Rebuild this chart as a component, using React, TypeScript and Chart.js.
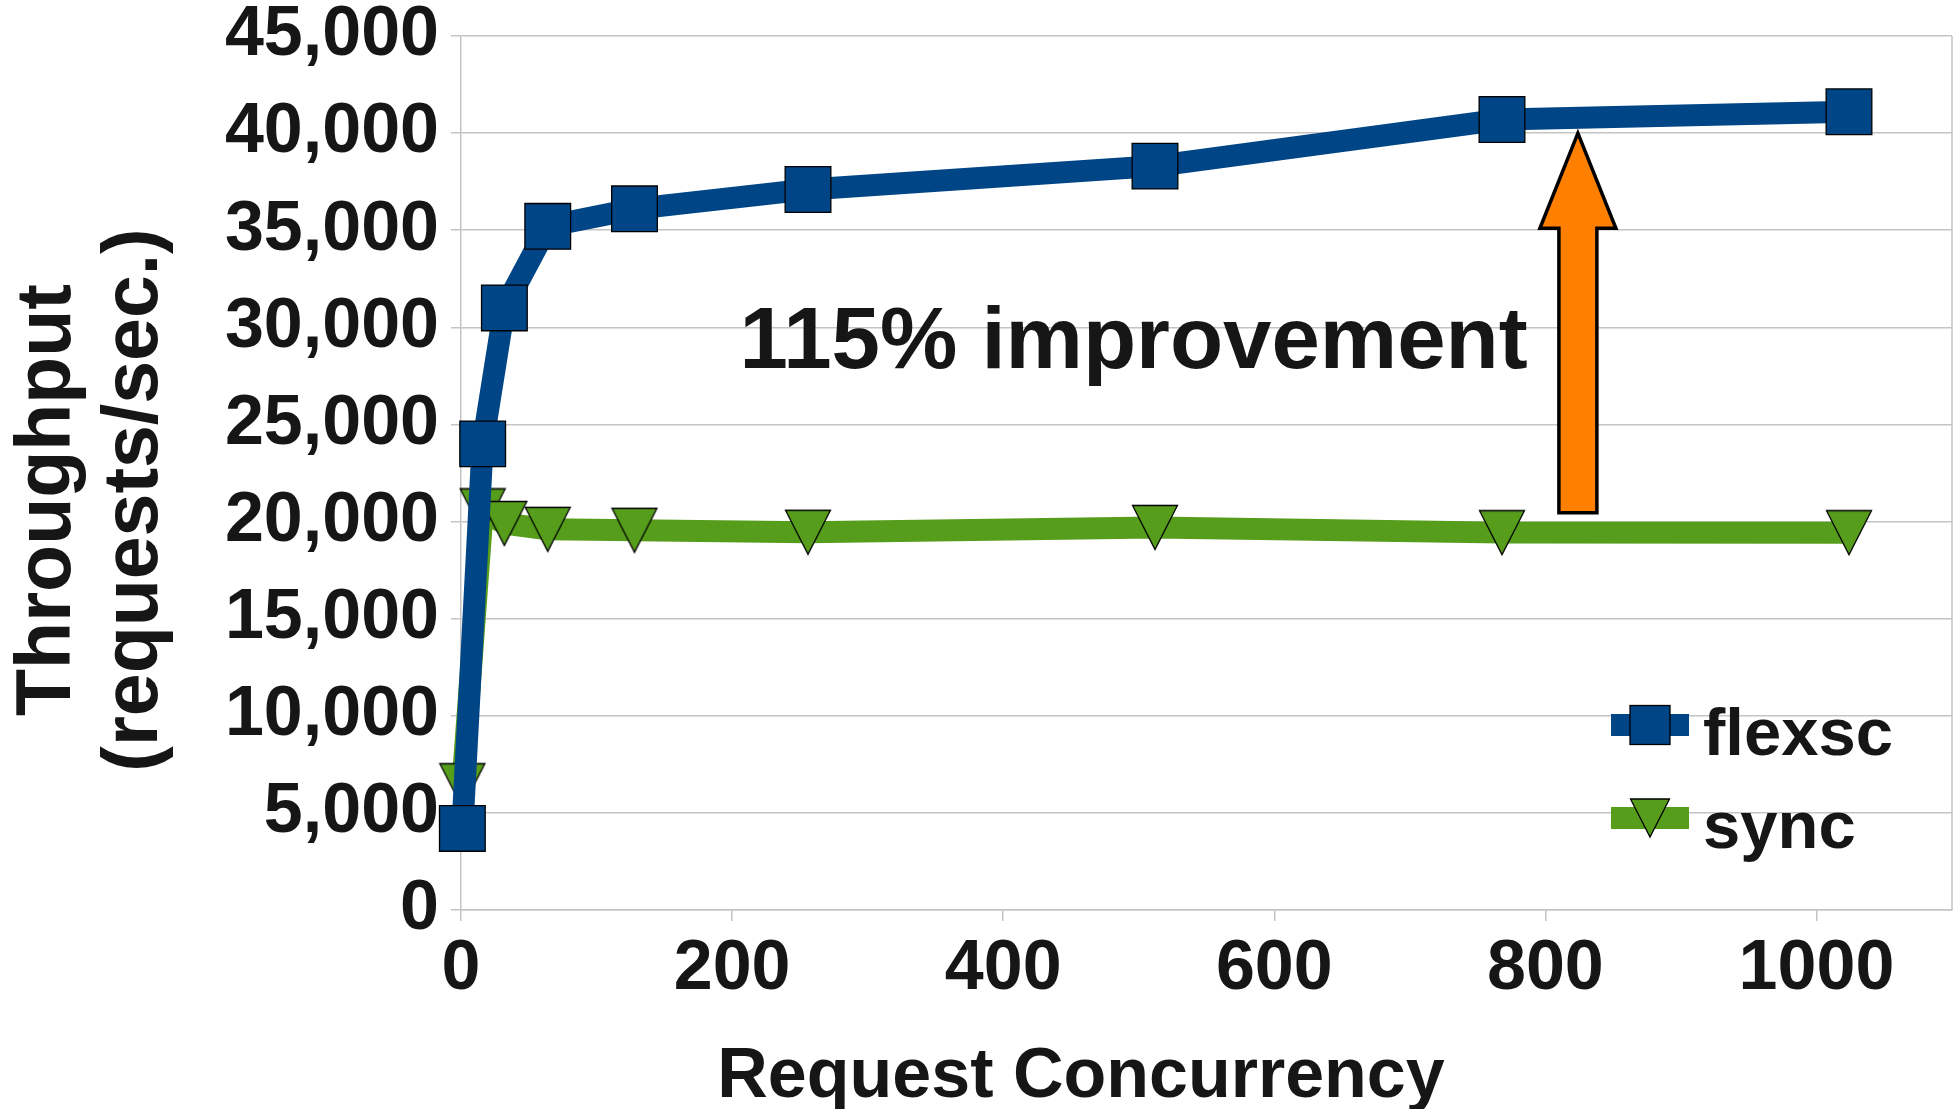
import React, { useEffect, useRef } from 'react';
import { Chart, registerables } from 'chart.js';

Chart.register(...registerables);

// ---- data ----
const CONCURRENCY = [1, 16, 32, 64, 128, 256, 512, 768, 1024];
const FLEXSC = [4200, 24000, 31000, 35200, 36100, 37100, 38300, 40700, 41100];
const SYNC = [6400, 20550, 19900, 19600, 19550, 19450, 19700, 19430, 19430];
const SERIES_NAMES = ['flexsc', 'sync'];
const X_TICKS = [0, 200, 400, 600, 800, 1000];
const Y_TICKS = [0, 5000, 10000, 15000, 20000, 25000, 30000, 35000, 40000, 45000];
const X_TITLE = 'Request Concurrency';
const Y_TITLE_LINES = ['Throughput', '(requests/sec.)'];
const NOTE_TEXT = '115% improvement';
// annotation anchors in data units
const NOTE_AT = { x: 205.5, y: 27900 };
const ARROW_AT = { x: 824, from: 20450, headBase: 35100, to: 40000 };

// ---- styles ----
const FONT = "'Liberation Sans', Arial, sans-serif";
const TEXT = '#161616';
const GRID = '#c4c4c4';
const BLUE = '#004586';
const GREEN = '#579d1c';
const ORANGE = '#ff8000';

function makeTriangle(w: number, h: number, fill: string): HTMLCanvasElement {
  const c = document.createElement('canvas');
  c.width = Math.ceil(w + 3);
  c.height = Math.ceil(h + 3);
  const ctx = c.getContext('2d')!;
  const x0 = (c.width - w) / 2;
  const y0 = (c.height - h) / 2;
  ctx.beginPath();
  ctx.moveTo(x0, y0);
  ctx.lineTo(x0 + w, y0);
  ctx.lineTo(x0 + w / 2, y0 + h);
  ctx.closePath();
  ctx.fillStyle = fill;
  ctx.fill();
  ctx.lineWidth = 1.3;
  ctx.strokeStyle = '#000';
  ctx.lineJoin = 'miter';
  ctx.stroke();
  return c;
}

const extrasPlugin = {
  id: 'extras',
  beforeDatasetsDraw(chart: any) {
    const { ctx, chartArea } = chart;
    // right border of plot
    ctx.save();
    ctx.strokeStyle = GRID;
    ctx.lineWidth = 1.5;
    ctx.beginPath();
    ctx.moveTo(chartArea.right, chartArea.top);
    ctx.lineTo(chartArea.right, chartArea.bottom);
    ctx.stroke();
    ctx.restore();
  },
  afterDatasetsDraw(chart: any) {
    const { ctx, chartArea, scales } = chart;
    const xs = scales.x;
    const ys = scales.y;
    ctx.save();

    // arrow
    const ax = xs.getPixelForValue(ARROW_AT.x);
    const tipY = ys.getPixelForValue(ARROW_AT.to);
    const baseY = ys.getPixelForValue(ARROW_AT.headBase);
    const botY = ys.getPixelForValue(ARROW_AT.from);
    const sh = 19;
    const hh = 38;
    ctx.beginPath();
    ctx.moveTo(ax - sh, botY);
    ctx.lineTo(ax - sh, baseY);
    ctx.lineTo(ax - hh, baseY);
    ctx.lineTo(ax, tipY);
    ctx.lineTo(ax + hh, baseY);
    ctx.lineTo(ax + sh, baseY);
    ctx.lineTo(ax + sh, botY);
    ctx.closePath();
    ctx.fillStyle = ORANGE;
    ctx.fill();
    ctx.lineWidth = 3.5;
    ctx.strokeStyle = '#000';
    ctx.lineJoin = 'miter';
    ctx.stroke();

    // note text
    ctx.fillStyle = TEXT;
    ctx.font = `bold 87px ${FONT}`;
    ctx.textAlign = 'left';
    ctx.textBaseline = 'alphabetic';
    ctx.fillText(NOTE_TEXT, xs.getPixelForValue(NOTE_AT.x), ys.getPixelForValue(NOTE_AT.y));

    // legend
    const datasets = chart.data.datasets;
    const lineL = chartArea.right - 341;
    const lineR = chartArea.right - 263;
    const mx = chartArea.right - 302;
    const tx = chartArea.right - 249;
    const rows = [chartArea.bottom - 185, chartArea.bottom - 92];
    datasets.forEach((ds: any, i: number) => {
      const cy = rows[i];
      ctx.fillStyle = ds.borderColor;
      ctx.fillRect(lineL, cy - 11, lineR - lineL, 22);
      ctx.lineWidth = 1.3;
      ctx.strokeStyle = '#000';
      if (i === 0) {
        ctx.fillStyle = ds.pointBackgroundColor;
        ctx.fillRect(mx - 20, cy - 19.5, 40, 39);
        ctx.strokeRect(mx - 20, cy - 19.5, 40, 39);
      } else {
        ctx.beginPath();
        ctx.moveTo(mx - 19.5, cy - 19);
        ctx.lineTo(mx + 19.5, cy - 19);
        ctx.lineTo(mx, cy + 19);
        ctx.closePath();
        ctx.fillStyle = ds.borderColor;
        ctx.fill();
        ctx.stroke();
      }
      ctx.fillStyle = TEXT;
      ctx.font = `bold 67px ${FONT}`;
      ctx.textAlign = 'left';
      ctx.textBaseline = 'alphabetic';
      ctx.fillText(ds.label, tx, cy + 30);
    });

    // axis titles
    ctx.fillStyle = TEXT;
    ctx.textAlign = 'center';
    ctx.textBaseline = 'alphabetic';
    ctx.font = `bold 70px ${FONT}`;
    ctx.fillText(X_TITLE, 1081, 1097);
    ctx.font = `bold 77px ${FONT}`;
    const titleX = [70, 156.5];
    Y_TITLE_LINES.forEach((t, i) => {
      ctx.save();
      ctx.translate(titleX[i], 500);
      ctx.rotate(-Math.PI / 2);
      ctx.fillText(t, 0, 0);
      ctx.restore();
    });
    ctx.restore();
  },
};

export default function App() {
  const ref = useRef<HTMLCanvasElement>(null);
  useEffect(() => {
    const canvas = ref.current!;
    const tri = makeTriangle(45, 44, GREEN);
    const tickFont = { family: FONT, size: 70, weight: 'bold' as const, lineHeight: 1 };
    const chart = new Chart(canvas, {
      type: 'line',
      data: {
        datasets: [
          {
            label: SERIES_NAMES[0],
            data: CONCURRENCY.map((x, i) => ({ x, y: FLEXSC[i] })),
            borderColor: BLUE,
            backgroundColor: BLUE,
            borderWidth: 22,
            borderJoinStyle: 'round',
            pointStyle: 'rect',
            pointRadius: 32.3,
            pointBackgroundColor: BLUE,
            pointBorderColor: '#000',
            pointBorderWidth: 1.3,
            tension: 0,
            clip: false as any,
          },
          {
            label: SERIES_NAMES[1],
            data: CONCURRENCY.map((x, i) => ({ x, y: SYNC[i] })),
            borderColor: GREEN,
            backgroundColor: GREEN,
            borderWidth: 22,
            borderJoinStyle: 'round',
            pointStyle: tri as any,
            pointRadius: 22,
            pointBackgroundColor: GREEN,
            pointBorderColor: '#000',
            pointBorderWidth: 1.3,
            tension: 0,
            clip: false as any,
          },
        ],
      },
      options: {
        responsive: false,
        animation: false,
        devicePixelRatio: 1,
        layout: { autoPadding: false, padding: { top: 36, right: 8, left: 0, bottom: 0 } },
        plugins: {
          legend: { display: false },
          tooltip: { enabled: false },
        },
        scales: {
          x: {
            type: 'linear',
            min: 0,
            max: 1100,
            afterBuildTicks: (s: any) => {
              s.ticks = X_TICKS.map((v) => ({ value: v }));
            },
            afterFit: (s: any) => {
              s.height = 199;
              s.paddingLeft = 0;
              s.paddingRight = 0;
            },
            ticks: {
              font: tickFont,
              color: TEXT,
              padding: 14,
              maxRotation: 0,
              autoSkip: false,
              callback: (v: any) => String(v),
            },
            grid: {
              display: true,
              drawOnChartArea: false,
              drawTicks: true,
              tickLength: 11,
              color: GRID,
              lineWidth: 1.5,
            },
            border: { display: true, color: GRID, width: 1.5 },
            title: { display: false },
          },
          y: {
            type: 'linear',
            min: 0,
            max: 45000,
            afterBuildTicks: (s: any) => {
              s.ticks = Y_TICKS.map((v) => ({ value: v }));
            },
            afterFit: (s: any) => {
              s.width = 461;
              s.paddingTop = 0;
              s.paddingBottom = 0;
            },
            ticks: {
              font: tickFont,
              color: TEXT,
              padding: 12,
              autoSkip: false,
              callback: (v: any) => Number(v).toLocaleString('en-US'),
            },
            grid: {
              display: true,
              drawTicks: true,
              tickLength: 10,
              color: GRID,
              lineWidth: 1.5,
            },
            border: { display: true, color: GRID, width: 1.5 },
            title: { display: false },
          },
        },
      },
      plugins: [extrasPlugin],
    });
    return () => chart.destroy();
  }, []);
  return (
    <div style={{ position: 'fixed', left: 0, top: 0, width: 1960, height: 1109, background: '#fff' }}>
      <canvas ref={ref} width={1960} height={1109} style={{ display: 'block', width: 1960, height: 1109 }} />
    </div>
  );
}
